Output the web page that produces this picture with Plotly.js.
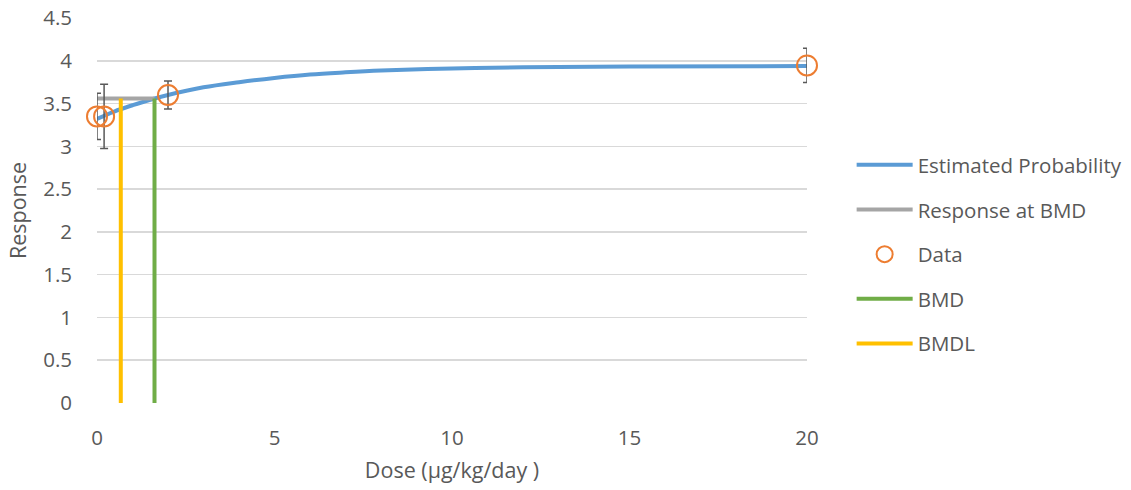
<!DOCTYPE html>
<html>
<head>
<meta charset="utf-8">
<script src="https://cdn.plot.ly/plotly-3.0.1.min.js"></script>
<style>html,body{margin:0;padding:0;background:#fff;}#chart{width:1131px;height:490px;}</style>
</head>
<body>
<div id="chart"></div>
<script>
// Fitted curve
const curveDose = [0, 0.5, 1, 1.5, 2, 3, 4, 5, 6, 7, 8, 10, 12, 15, 20];
const curveResp = [3.32, 3.41, 3.48, 3.545, 3.60, 3.69, 3.75, 3.80, 3.84, 3.865, 3.885, 3.91, 3.925, 3.933, 3.938];
// Observed data with error bars
const dataDose = [0, 0.2, 2, 20];
const dataMean = [3.35, 3.35, 3.60, 3.945];
const dataErr = [0.27, 0.375, 0.165, 0.20];
// Benchmark values
const bmd = 1.62;
const bmdl = 0.67;
const bmdResponse = 3.56;

const font = "'Open Sans', Lato, sans-serif";
const txt = '#595959';

const traces = [
  {x: curveDose, y: curveResp, mode: 'lines', name: 'Estimated Probability',
   line: {color: '#5b9bd5', width: 4, shape: 'spline'}, legendgroup: 'a'},
  {x: [0, bmd], y: [bmdResponse, bmdResponse], mode: 'lines', name: 'Response at BMD',
   line: {color: '#a5a5a5', width: 4}, legendgroup: 'b'},
  {x: dataDose, y: dataMean, mode: 'markers', name: 'Data', cliponaxis: false,
   marker: {symbol: 'circle-open', size: 20, color: '#ed7d31', line: {width: 2, color: '#ed7d31'}},
   error_y: {type: 'data', array: dataErr, visible: true, color: '#595959', thickness: 1.5, width: 4},
   legendgroup: 'c'},
  {x: [bmd, bmd], y: [0, bmdResponse], mode: 'lines', name: 'BMD',
   line: {color: '#70ad47', width: 4}, legendgroup: 'd'},
  {x: [bmdl, bmdl], y: [0, bmdResponse], mode: 'lines', name: 'BMDL',
   line: {color: '#ffc000', width: 4}, legendgroup: 'e'}
];

const layout = {
  width: 1131, height: 490,
  margin: {l: 96.5, r: 323.5, t: 18, b: 87},
  paper_bgcolor: '#fff', plot_bgcolor: '#fff',
  font: {family: font, color: txt, size: 20},
  showlegend: true,
  legend: {xref: 'container', yref: 'container', x: 0.753, xanchor: 'left', y: 0.704, yanchor: 'top',
           tracegroupgap: 15, itemwidth: 56,
           font: {family: font, size: 20.5, color: txt}, bgcolor: 'rgba(0,0,0,0)'},
  xaxis: {range: [0, 20], tickvals: [0, 5, 10, 15, 20], showgrid: false, zeroline: false,
          showline: false, ticks: '', ticklabelstandoff: 20,
          tickfont: {family: font, size: 20.5, color: txt},
          title: {text: 'Dose (µg/kg/day )', font: {family: font, size: 21.5, color: txt}, standoff: 13}},
  yaxis: {range: [0, 4.5], dtick: 0.5, showgrid: true, gridcolor: '#d9d9d9', gridwidth: 1.5,
          zeroline: false, showline: false, ticks: '', ticklabelstandoff: 24,
          tickfont: {family: font, size: 20.5, color: txt},
          title: {text: 'Response', font: {family: font, size: 21.5, color: txt}, standoff: 10}}
};

Plotly.newPlot('chart', traces, layout, {displayModeBar: false, staticPlot: true});
</script>
</body>
</html>
